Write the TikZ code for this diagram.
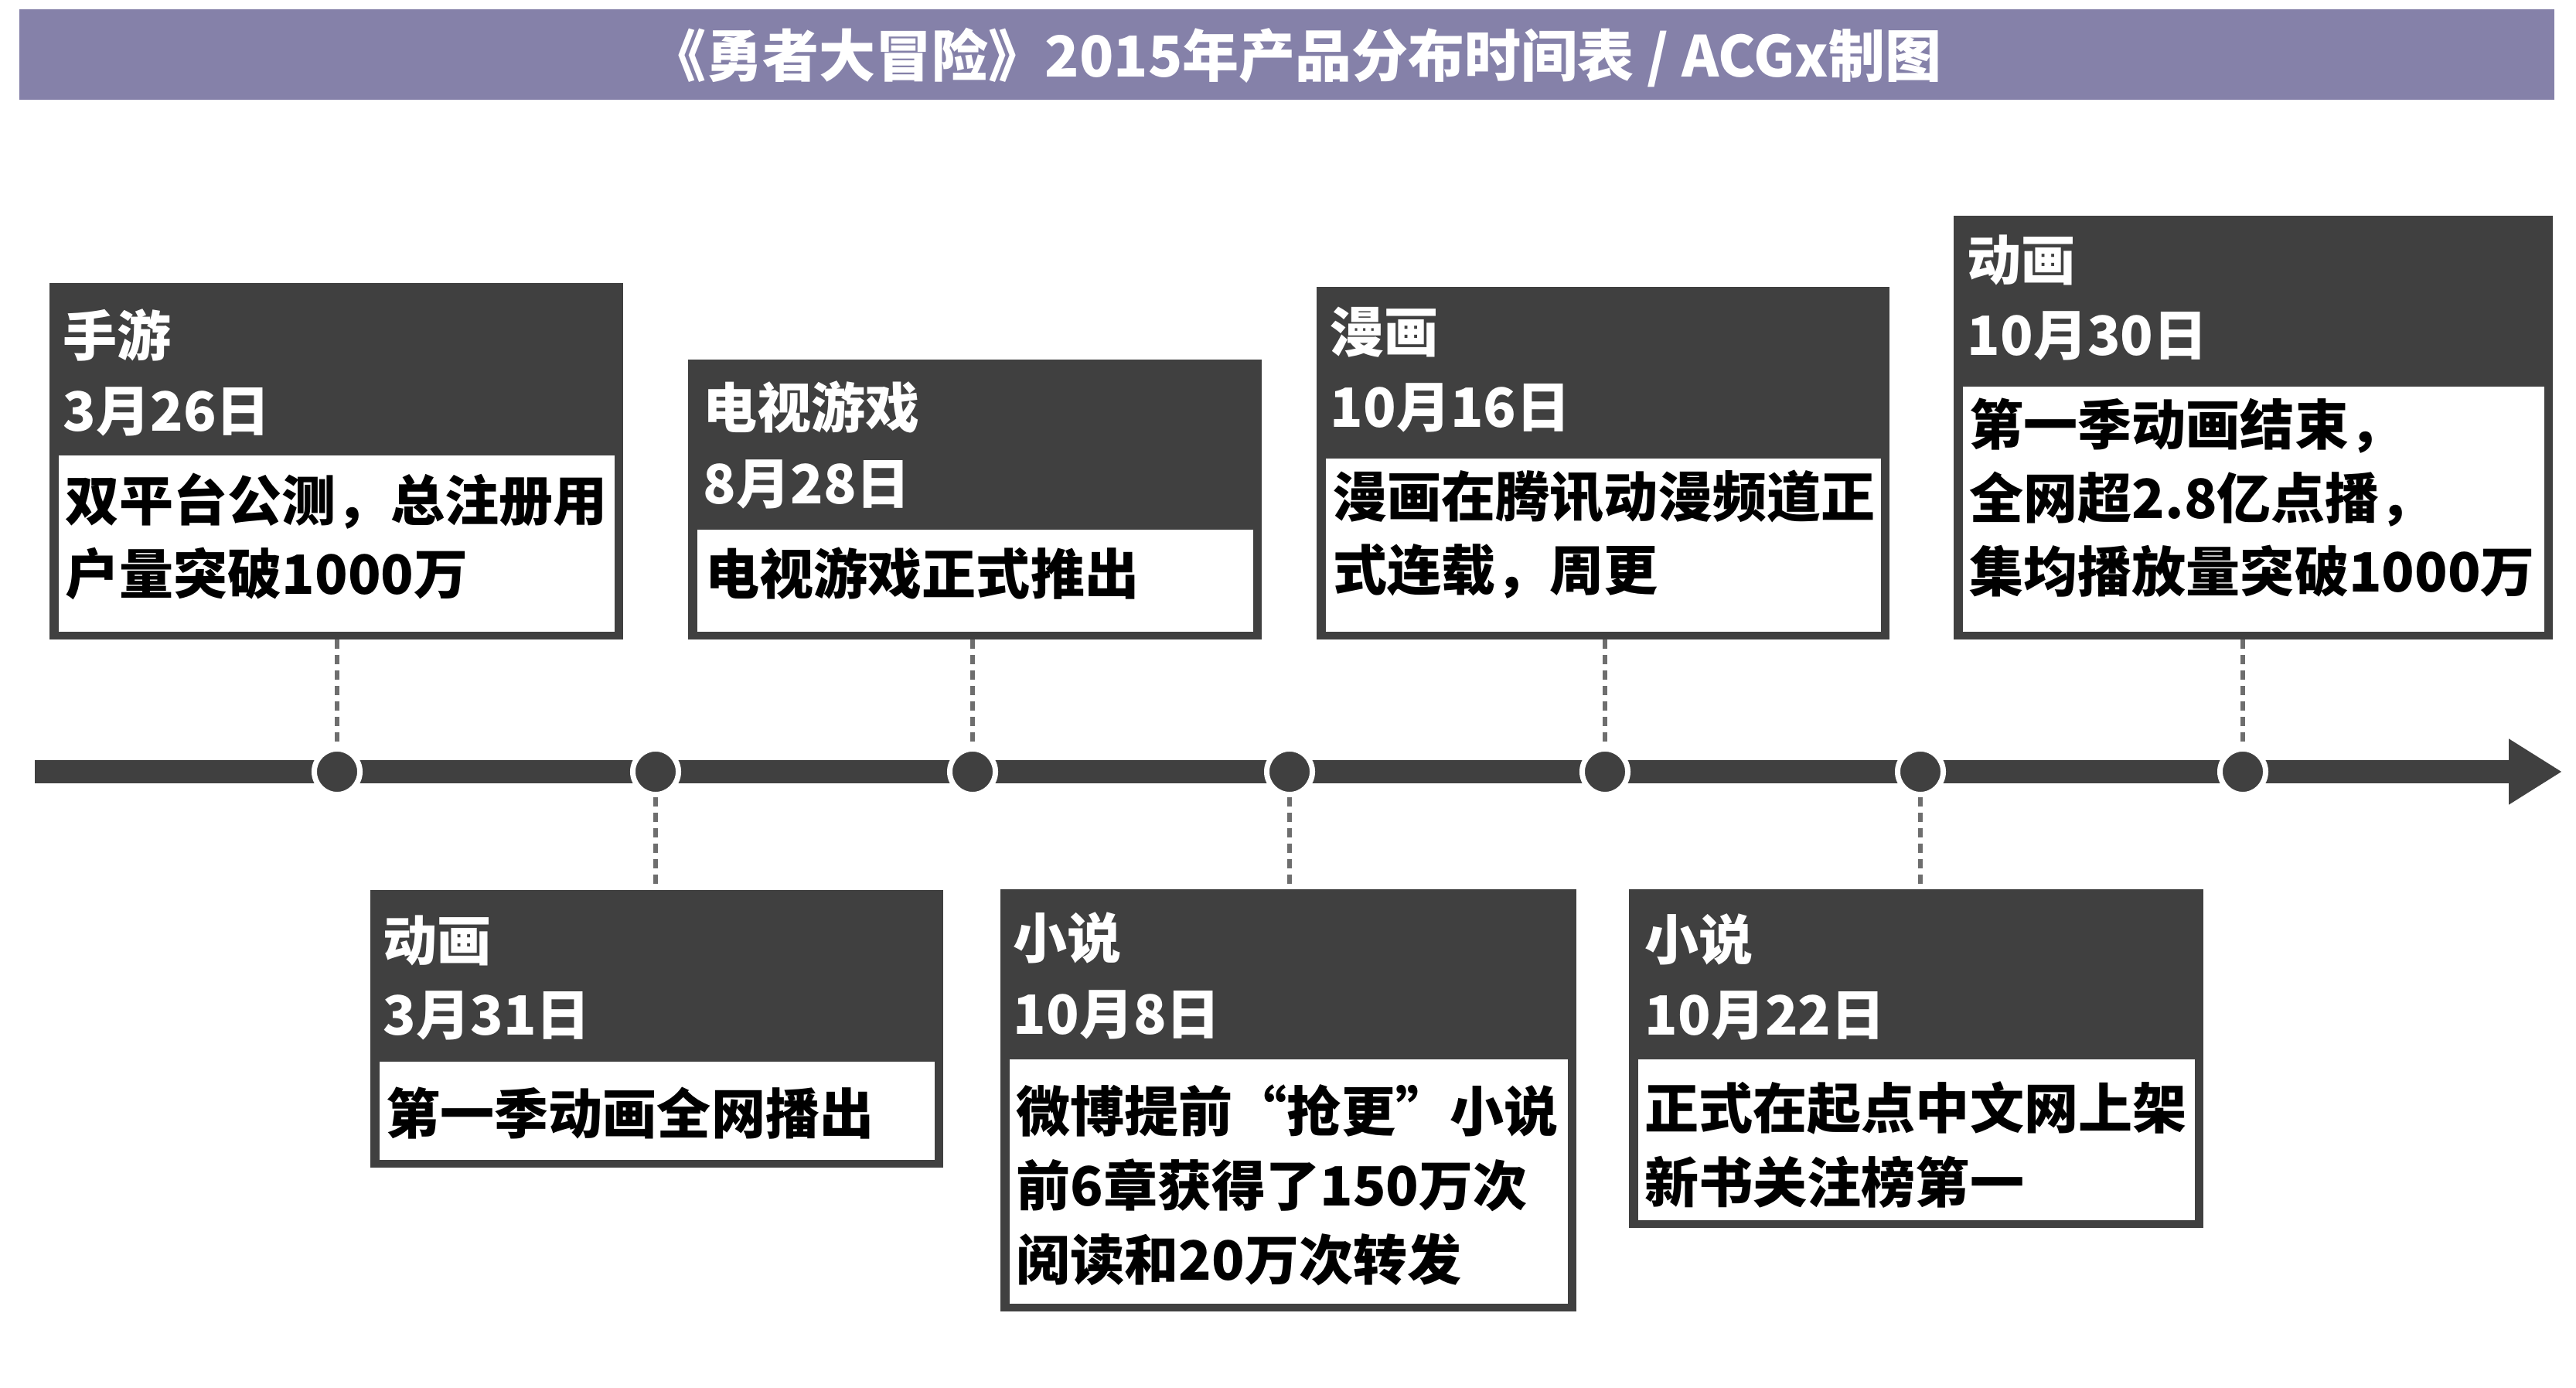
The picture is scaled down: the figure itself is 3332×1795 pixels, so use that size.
\documentclass[tikz,border=0pt]{standalone}
\usepackage{fontspec}
\newfontfamily\cjk{Noto Sans CJK SC}
\usetikzlibrary{arrows.meta,fit}
\definecolor{dark}{HTML}{404040}
\definecolor{titlebg}{HTML}{8581A9}
\definecolor{conncol}{HTML}{6E6E6E}
\newcommand\evbox[6]{%
  \node[evouter, fit={(#2,#3) (#4,#5)}] (#1) {};
  \node[evinner, fit={(#2+12,#6) (#4-11,#5-10)}] (#1in) {};
}
\begin{document}
\begin{tikzpicture}[x=0.01cm,y=-0.01cm,
  evouter/.style={fill=dark, inner sep=0pt, outer sep=0pt},
  evinner/.style={fill=white, inner sep=0pt, outer sep=0pt},
  hdr/.style={anchor=base west, inner sep=0pt, text=white, font=\cjk\bfseries\fontsize{19.92pt}{24pt}\selectfont},
  bodytxt/.style={anchor=base west, inner sep=0pt, text=black, font=\cjk\bfseries\fontsize{19.92pt}{24pt}\selectfont},
  titletxt/.style={anchor=base, inner sep=0pt, text=white, font=\cjk\bfseries\fontsize{20.77pt}{24pt}\selectfont},
  dot/.style={circle, fill=dark, draw=white, line width=1.99pt, minimum size=16.79pt, inner sep=0pt},
  conn/.style={draw=conncol, line width=1.71pt, dash pattern=on 3.41pt off 2.28pt},
  bar/.style={draw=dark, line width=8.54pt}
]
\useasboundingbox (0,0) rectangle (3332,1795);

% title
\node[fill=titlebg, inner sep=0pt, outer sep=0pt, fit={(25,12) (3304,129)}] (tbar) {};
\node[titletxt] (ttl) at (1676,100) {《勇者大冒险》2015年产品分布时间表 / ACGx制图};

% timeline
\coordinate (tstart) at (45,998);
\coordinate (tend) at (3314,998);
\draw[bar, -{Triangle[length=19.6pt, width=22.8pt]}] (tstart) -- (tend);

\node[dot] (d1) at (436,998) {};
\node[dot] (d2) at (848,998) {};
\node[dot] (d3) at (1258,998) {};
\node[dot] (d4) at (1668,998) {};
\node[dot] (d5) at (2076,998) {};
\node[dot] (d6) at (2484,998) {};
\node[dot] (d7) at (2901,998) {};

% boxes
\evbox{b1}{64}{366}{806}{827}{589}
\evbox{b2}{890}{465}{1632}{827}{685}
\evbox{b3}{1703}{371}{2444}{827}{593}
\evbox{b4}{2527}{279}{3302}{827}{500}
\evbox{b5}{479}{1151}{1220}{1510}{1373}
\evbox{b6}{1294}{1150}{2039}{1696}{1370}
\evbox{b7}{2107}{1150}{2850}{1588}{1370}

% connectors
\draw[conn] (d1 |- b1.south) -- (d1.north);
\draw[conn] (d3 |- b2.south) -- (d3.north);
\draw[conn] (d5 |- b3.south) -- (d5.north);
\draw[conn] (d7 |- b4.south) -- (d7.north);
\draw[conn] (d2.south) -- (d2 |- b5.north);
\draw[conn] (d4.south) -- (d4 |- b6.north);
\draw[conn] (d6.south) -- (d6 |- b7.north);

% texts box 1
\node[hdr] (b1h1) at (81,461) {手游};
\node[hdr] (b1h2) at (81,558) {3月26日};
\node[bodytxt] (b1t1) at (84,674) {双平台公测，总注册用};
\node[bodytxt] (b1t2) at (84,769) {户量突破1000万};
% box 2
\node[hdr] (b2h1) at (909,554) {电视游戏};
\node[hdr] (b2h2) at (909,652) {8月28日};
\node[bodytxt] (b2t1) at (912,769) {电视游戏正式推出};
% box 3
\node[hdr] (b3h1) at (1720,456) {漫画};
\node[hdr] (b3h2) at (1720,553) {10月16日};
\node[bodytxt] (b3t1) at (1724,669) {漫画在腾讯动漫频道正};
\node[bodytxt] (b3t2) at (1724,764) {式连载，周更};
% box 4
\node[hdr] (b4h1) at (2544,363) {动画};
\node[hdr] (b4h2) at (2544,460) {10月30日};
\node[bodytxt] (b4t1) at (2547,576) {第一季动画结束，};
\node[bodytxt] (b4t2) at (2547,671) {全网超2.8亿点播，};
\node[bodytxt] (b4t3) at (2547,766) {集均播放量突破1000万};
% box 5
\node[hdr] (b5h1) at (495,1243) {动画};
\node[hdr] (b5h2) at (495,1339) {3月31日};
\node[bodytxt] (b5t1) at (499,1466) {第一季动画全网播出};
% box 6
\node[hdr] (b6h1) at (1310,1240) {小说};
\node[hdr] (b6h2) at (1310,1337) {10月8日};
\node[bodytxt] (b6t1) at (1314,1464) {\addfontfeature{RawFeature=+fwid}微博提前“抢更”小说};
\node[bodytxt] (b6t2) at (1314,1559) {前6章获得了150万次};
\node[bodytxt] (b6t3) at (1314,1655) {阅读和20万次转发};
% box 7
\node[hdr] (b7h1) at (2127,1242) {小说};
\node[hdr] (b7h2) at (2127,1339) {10月22日};
\node[bodytxt] (b7t1) at (2127,1459) {正式在起点中文网上架};
\node[bodytxt] (b7t2) at (2127,1555) {新书关注榜第一};
\end{tikzpicture}
\end{document}
